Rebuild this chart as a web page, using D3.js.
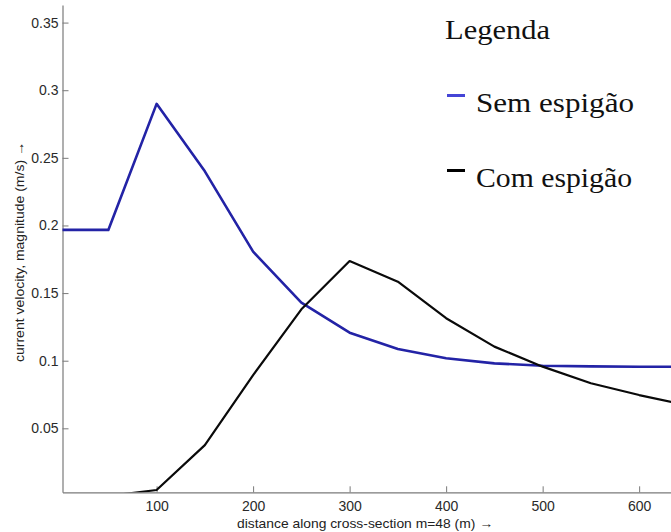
<!DOCTYPE html>
<html><head><meta charset="utf-8">
<script src="https://cdn.jsdelivr.net/npm/d3@7/dist/d3.min.js"></script>
<style>body{margin:0;background:#fff}svg{display:block}</style>
</head><body>
<svg id="c" width="671" height="532"></svg>
<script>
const distances = [0,50,100,150,200,250,300,350,400,450,500,550,600,650];
const semEspigao = [0.1967,0.1967,0.2899,0.240,0.1806,0.143,0.1207,0.1087,0.1018,0.098,0.0963,0.0958,0.0955,0.0955];
const comEspigao = [0,0,0.0044,0.0376,0.0894,0.138,0.1737,0.1584,0.1314,0.1104,0.0956,0.0833,0.0746,0.067];
const xTicks = [100,200,300,400,500,600];
const yTicks = [0.05,0.1,0.15,0.2,0.25,0.3,0.35];
const seriesNames = ["Sem espigão","Com espigão"];
const legendTitle = "Legenda";
const xTitle = "distance along cross-section m=48 (m) \u2192";
const yTitle = "current velocity, magnitude (m/s) \u2192";

const svg = d3.select("#c");
const L = 62.5, R = 671, T = 5, B = 492.3;
const x = d3.scaleLinear().domain([2.5, 633]).range([L, R]);
const y = d3.scaleLinear().domain([0.0027, 0.363]).range([B, T]);

svg.append("clipPath").attr("id","clip").append("rect")
  .attr("x",L).attr("y",T).attr("width",R-L).attr("height",B-T);

const axisCol = "#7a7a7a";
const sans = "'Liberation Sans',Arial,sans-serif";
const xa = svg.append("g").attr("transform",`translate(0,${B})`)
  .call(d3.axisBottom(x).tickValues(xTicks).tickFormat(d3.format("d")).tickSizeInner(-6).tickSizeOuter(0).tickPadding(9));
const ya = svg.append("g").attr("transform",`translate(${L},0)`)
  .call(d3.axisLeft(y).tickValues(yTicks).tickFormat(d=>String(d)).tickSizeInner(-6).tickSizeOuter(0).tickPadding(4));
[xa,ya].forEach(g=>{
  g.select(".domain").attr("stroke",axisCol).attr("stroke-width",1.2);
  g.selectAll(".tick line").attr("stroke",axisCol);
  g.selectAll("text").attr("fill","#2a2a2a").style("font-family",sans).style("font-size","14px");
});
ya.selectAll("text").attr("x",-4);

const line = d3.line().x((d,i)=>x(distances[i])).y(d=>y(d));
const pg = svg.append("g").attr("clip-path","url(#clip)");
pg.append("path").datum(semEspigao).attr("d",line).attr("fill","none")
  .attr("stroke","#2323a6").attr("stroke-width",2.6).attr("stroke-linejoin","round");
pg.append("path").datum(comEspigao).attr("d",line).attr("fill","none")
  .attr("stroke","#0a0a0a").attr("stroke-width",2.2).attr("stroke-linejoin","round");

svg.append("text").attr("x",365).attr("y",528).attr("text-anchor","middle")
  .style("font-family",sans).style("font-size","13px").attr("fill","#222")
  .attr("textLength",256).attr("lengthAdjust","spacingAndGlyphs")
  .text(xTitle);
svg.append("text").attr("transform","translate(24,252) rotate(-90)").attr("text-anchor","middle")
  .style("font-family",sans).style("font-size","13px").attr("fill","#222")
  .attr("textLength",220).attr("lengthAdjust","spacingAndGlyphs")
  .text(yTitle);

// legend
const serif = "'Liberation Serif','Times New Roman',serif";
svg.append("text").attr("x",445).attr("y",39).style("font-family",serif).style("font-size","28px")
  .attr("fill","#111").attr("textLength",105).attr("lengthAdjust","spacingAndGlyphs").text(legendTitle);
const legCols = ["#4545d6","#000"];
const legY = [111.5,186.5];
const legLen = [158,156];
seriesNames.forEach((n,i)=>{
  svg.append("rect").attr("x",447).attr("y",legY[i]-17.5).attr("width",18).attr("height",3).attr("fill",legCols[i]);
  svg.append("text").attr("x",476).attr("y",legY[i]).style("font-family",serif).style("font-size","28px")
    .attr("fill","#111").attr("textLength",legLen[i]).attr("lengthAdjust","spacingAndGlyphs").text(n);
});
</script>
</body></html>
